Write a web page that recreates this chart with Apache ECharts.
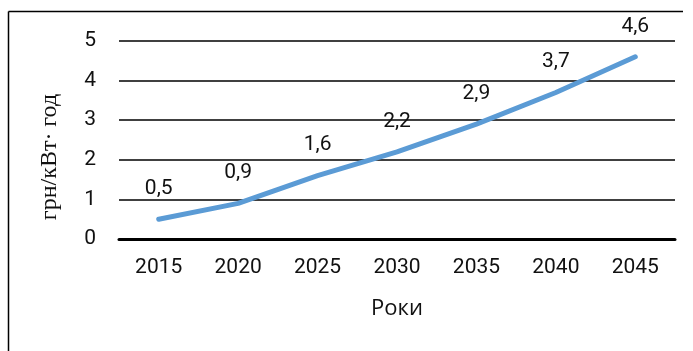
<!DOCTYPE html>
<html>
<head>
<meta charset="utf-8">
<script src="https://cdn.jsdelivr.net/npm/echarts@6/dist/echarts.min.js"></script>
<style>
  html, body { margin: 0; padding: 0; background: #fff; }
  #chart { width: 693px; height: 351px; }
</style>
</head>
<body>
<div id="chart"></div>
<script>
// Years on the horizontal axis
const years = ['2015', '2020', '2025', '2030', '2035', '2040', '2045'];
// Cost values, UAH per kWh
const costs = [0.5, 0.9, 1.6, 2.2, 2.9, 3.7, 4.6];
// Vertical axis range
const yMin = 0;
const yMax = 5;
const yStep = 1;

const chart = echarts.init(document.getElementById('chart'), null, { renderer: 'canvas' });

const sans = 'Roboto, "Liberation Sans", sans-serif';

chart.setOption({
  animation: false,
  backgroundColor: '#ffffff',
  grid: { left: 119, right: 18, top: 41, bottom: 112 },
  xAxis: {
    type: 'category',
    data: years,
    boundaryGap: true,
    axisLine: { show: true, lineStyle: { color: '#000', width: 3 } },
    axisTick: { show: false },
    axisLabel: { color: '#111', fontSize: 21, fontFamily: sans, margin: 18 },
    name: 'Роки',
    nameLocation: 'middle',
    nameGap: 59,
    nameTextStyle: { color: '#111', fontSize: 22, fontFamily: '"Open Sans", sans-serif' }
  },
  yAxis: {
    type: 'value',
    min: yMin,
    max: yMax,
    interval: yStep,
    axisLine: { show: false },
    axisTick: { show: false },
    axisLabel: {
      color: '#111', fontSize: 21, fontFamily: sans, margin: 23,
      formatter: v => String(v)
    },
    splitLine: { lineStyle: { color: '#000', width: 1.5 } }
  },
  series: [{
    type: 'line',
    data: costs,
    showSymbol: true,
    symbol: 'circle',
    symbolSize: 2,
    itemStyle: { color: 'rgba(91,155,213,0)', borderWidth: 0 },
    lineStyle: { color: '#5B9BD5', width: 5, cap: 'round', join: 'round' },
    label: {
      show: true,
      position: 'top',
      distance: 19,
      color: '#111',
      fontSize: 21,
      fontFamily: sans,
      formatter: p => String(p.value).replace('.', ',')
    },
    z: 3
  }],
  graphic: [
    // partial frame: top and left edges
    { type: 'line', shape: { x1: 8.5, y1: 11.5, x2: 683, y2: 11.5 }, style: { stroke: '#000', lineWidth: 1.5 } },
    { type: 'line', shape: { x1: 8.5, y1: 11.5, x2: 8.5, y2: 351 }, style: { stroke: '#000', lineWidth: 1.5 } },
    // vertical axis title
    {
      type: 'text',
      x: 50, y: 157,
      rotation: Math.PI / 2,
      style: {
        text: 'грн/кВт· год',
        fill: '#111',
        font: '24px "Liberation Serif", "DejaVu Serif", serif',
        align: 'center',
        verticalAlign: 'middle'
      }
    }
  ]
});
</script>
</body>
</html>
